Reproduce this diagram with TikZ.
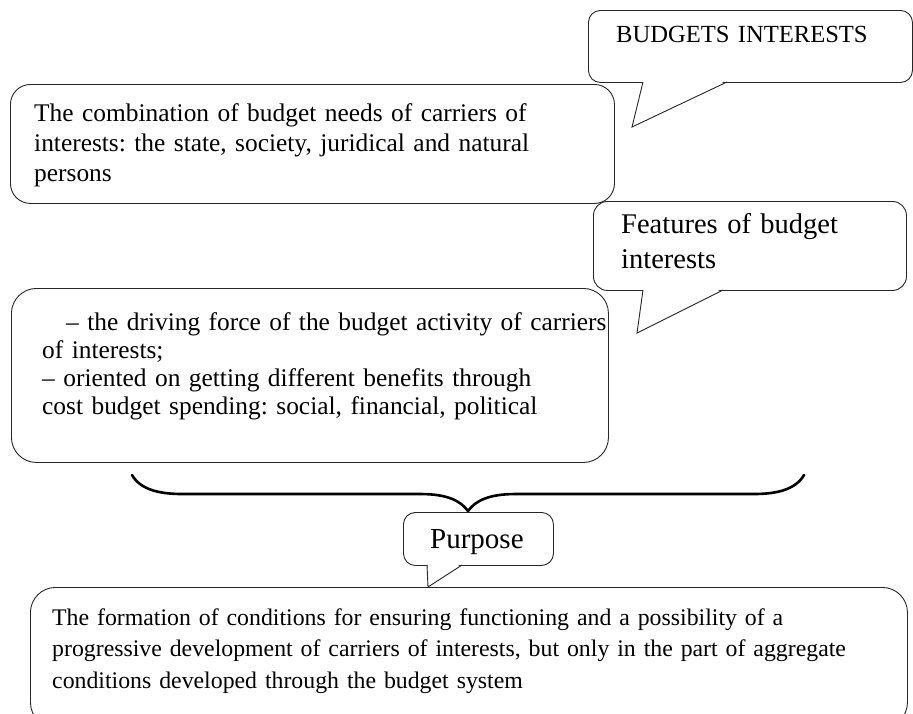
\documentclass[tikz,border=0pt]{standalone}
\usepackage{fontspec}
\setmainfont{Liberation Serif}
\frenchspacing
\begin{document}
\begin{tikzpicture}[x=1pt,y=-1pt,
  box/.style={draw=black!85, line width=0.9pt, rounded corners=#1, inner sep=0pt, anchor=north west},
  txt/.style={anchor=base west, inner sep=0pt, align=left, text width=880pt},
  tail/.style={draw=black!85, line width=0.9pt, line join=miter},
  bracestyle/.style={draw=black, line width=2.6pt, line cap=round}
]
\useasboundingbox (0,0) rectangle (913,713);
\clip (0,0) rectangle (913,713);
\fill[white] (0,0) rectangle (913,713);

% callout 1
\node[box=12pt, minimum width=324pt, minimum height=72pt] (c1) at (588,10) {};
\coordinate (c1a) at (643,82);
\coordinate (c1tip) at (632,127);
\coordinate (c1b) at (727,82);
\fill[white] (643.5,80.5) -- (726.5,80.5) -- (c1tip) -- cycle;
\draw[tail] (c1a) -- (c1tip) -- (c1b);
\node[txt, font=\fontsize{24.6}{30}\selectfont] (t0) at (616,42) {BUDGETS INTERESTS};

% box 1
\node[box=20pt, minimum width=604pt, minimum height=119pt] (b1) at (10,84) {};
\node[txt, font=\fontsize{25.4}{30}\selectfont] (t1) at (34,121)
  {The combination of budget needs of carriers of\\interests: the state, society, juridical and natural\\persons};

% callout 2
\node[box=14pt, minimum width=313pt, minimum height=89pt] (c2) at (593,201) {};
\coordinate (c2a) at (643,290);
\coordinate (c2tip) at (637,333);
\coordinate (c2b) at (723,290);
\fill[white] (643.5,288.5) -- (722.5,288.5) -- (c2tip) -- cycle;
\draw[tail] (c2a) -- (c2tip) -- (c2b);
\node[txt, font=\fontsize{28.5}{35}\selectfont] (t2) at (621,233)
  {Features of budget\\interests};

% box 2
\node[box=25pt, minimum width=597pt, minimum height=174pt] (b2) at (11,288) {};
\node[txt, font=\fontsize{25.4}{28}\selectfont] (t3) at (42,330)
  {\hspace*{24pt}-- the driving force of the budget activity of carriers\\of interests;\\-- oriented on getting different benefits through\\cost budget spending: social, financial, political};

% brace
\coordinate (brL) at (132,475);
\coordinate (brR) at (804,475);
\coordinate (brtip) at (468,511);
\draw[bracestyle] (brL) .. controls (140,489) and (158,494) .. (182,494)
  -- (420,494) .. controls (446,494) and (460,500) .. (brtip)
  .. controls (476,500) and (490,494) .. (516,494)
  -- (754,494) .. controls (778,494) and (796,489) .. (brR);

% purpose callout
\node[box=12pt, minimum width=150pt, minimum height=53pt] (c3) at (403,512) {};
\coordinate (c3a) at (427,565);
\coordinate (c3tip) at (428,587);
\coordinate (c3b) at (462,565);
\fill[white] (427.5,563.5) -- (461.5,563.5) -- (c3tip) -- cycle;
\draw[tail] (c3a) -- (c3tip) -- (c3b);
\node[txt, font=\fontsize{29}{34}\selectfont] (t4) at (430,548) {Purpose};

% bottom box
\node[box=25pt, minimum width=877pt, minimum height=140pt] (b3) at (30,587) {};
\node[txt, font=\fontsize{23.8}{31.5}\selectfont] (t5) at (52,625)
  {The formation of conditions for ensuring functioning and a possibility of a\\progressive development of carriers of interests, but only in the part of aggregate\\conditions developed through the budget system};
\end{tikzpicture}
\end{document}
